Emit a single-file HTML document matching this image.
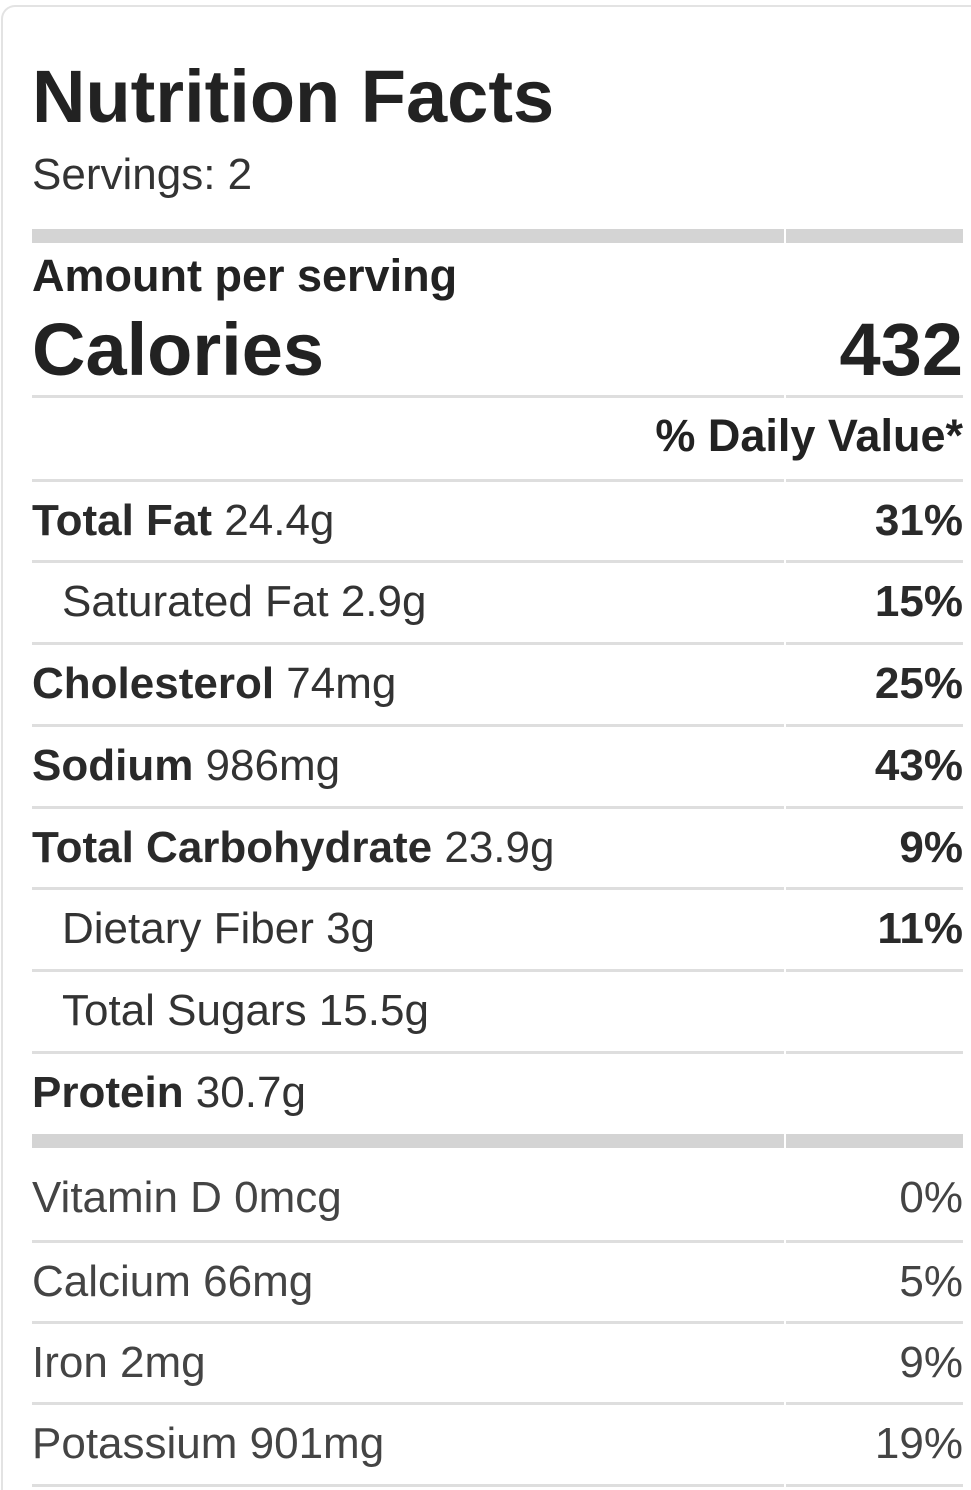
<!DOCTYPE html>
<html><head><meta charset="utf-8"><style>
*{margin:0;padding:0;box-sizing:border-box}
html,body{width:971px;height:1490px;overflow:hidden}
body{background:#fff;position:relative;font-family:"Liberation Sans",Arial,sans-serif;color:#333}
.card{position:absolute;left:1px;top:5px;width:970px;height:1485px;border:2px solid #e3e3e3;border-right:none;border-bottom:none;border-top-left-radius:14px}
.t{position:absolute;white-space:nowrap}
.l{position:absolute;height:3px;background:#dedede}
.k{position:absolute;height:14px;background:#d4d4d4}
.row{position:absolute;left:32px;width:931px;height:82px;line-height:82px;font-size:44px}
.row .r{position:absolute;right:0;top:0;font-weight:bold;color:#2a2a2a}
.row b{color:#2a2a2a}
.in{padding-left:30px}
.v .r{font-weight:normal;color:#444}
.v{color:#444}
</style></head><body>
<div class="card"></div>
<div class="t" style="left:32px;top:55px;font-size:74px;font-weight:bold;color:#222;line-height:84px">Nutrition Facts</div>
<div class="t" style="left:32px;top:150px;font-size:44px;line-height:50px">Servings: 2</div>
<div class="k" style="left:32px;top:229px;width:752px"></div><div class="k" style="left:786px;top:229px;width:177px"></div>
<div class="t" style="left:32px;top:251px;font-size:45px;font-weight:bold;color:#222;line-height:50px">Amount per serving</div>
<div class="t" style="left:32px;top:308px;font-size:74px;font-weight:bold;color:#222;line-height:84px">Calories</div>
<div class="t" style="right:8px;top:308px;font-size:74px;font-weight:bold;color:#222;line-height:84px">432</div>
<div class="l" style="left:32px;top:395px;width:752px"></div><div class="l" style="left:786px;top:395px;width:177px"></div>
<div class="t" style="right:8px;top:411px;font-size:45px;font-weight:bold;color:#222;line-height:50px">% Daily Value*</div>

<div class="l" style="left:32px;top:479px;width:752px"></div><div class="l" style="left:786px;top:479px;width:177px"></div>
<div class="row" style="top:480px"><b>Total Fat</b> 24.4g<span class="r">31%</span></div>
<div class="l" style="left:32px;top:560px;width:752px"></div><div class="l" style="left:786px;top:560px;width:177px"></div>
<div class="row in" style="top:561px">Saturated Fat 2.9g<span class="r">15%</span></div>
<div class="l" style="left:32px;top:642px;width:752px"></div><div class="l" style="left:786px;top:642px;width:177px"></div>
<div class="row" style="top:643px"><b>Cholesterol</b> 74mg<span class="r">25%</span></div>
<div class="l" style="left:32px;top:724px;width:752px"></div><div class="l" style="left:786px;top:724px;width:177px"></div>
<div class="row" style="top:725px"><b>Sodium</b> 986mg<span class="r">43%</span></div>
<div class="l" style="left:32px;top:806px;width:752px"></div><div class="l" style="left:786px;top:806px;width:177px"></div>
<div class="row" style="top:807px"><b>Total Carbohydrate</b> 23.9g<span class="r">9%</span></div>
<div class="l" style="left:32px;top:887px;width:752px"></div><div class="l" style="left:786px;top:887px;width:177px"></div>
<div class="row in" style="top:888px">Dietary Fiber 3g<span class="r">11%</span></div>
<div class="l" style="left:32px;top:969px;width:752px"></div><div class="l" style="left:786px;top:969px;width:177px"></div>
<div class="row in" style="top:970px">Total Sugars 15.5g</div>
<div class="l" style="left:32px;top:1051px;width:752px"></div><div class="l" style="left:786px;top:1051px;width:177px"></div>
<div class="row" style="top:1052px"><b>Protein</b> 30.7g</div>
<div class="k" style="left:32px;top:1134px;width:752px"></div><div class="k" style="left:786px;top:1134px;width:177px"></div>

<div class="row v" style="top:1157px">Vitamin D 0mcg<span class="r">0%</span></div>
<div class="l" style="left:32px;top:1240px;width:752px"></div><div class="l" style="left:786px;top:1240px;width:177px"></div>
<div class="row v" style="top:1241px">Calcium 66mg<span class="r">5%</span></div>
<div class="l" style="left:32px;top:1321px;width:752px"></div><div class="l" style="left:786px;top:1321px;width:177px"></div>
<div class="row v" style="top:1322px">Iron 2mg<span class="r">9%</span></div>
<div class="l" style="left:32px;top:1402px;width:752px"></div><div class="l" style="left:786px;top:1402px;width:177px"></div>
<div class="row v" style="top:1403px">Potassium 901mg<span class="r">19%</span></div>
<div class="l" style="left:32px;top:1484px;width:752px"></div><div class="l" style="left:786px;top:1484px;width:177px"></div>
</body></html>
